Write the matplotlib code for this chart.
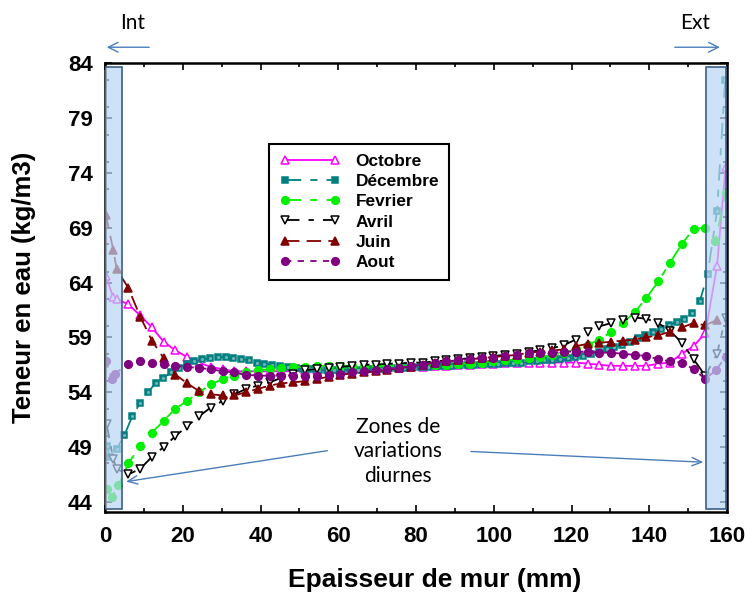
import numpy as np
import matplotlib
matplotlib.use("Agg")
import matplotlib.pyplot as plt
from matplotlib.patches import Rectangle, FancyArrowPatch
from matplotlib.ticker import MultipleLocator

# --- data -------------------------------------------------------------
# x grid (mm) of the interior nodes, and the finer grid of the Décembre run
x_mid = np.linspace(6.0, 154.4, 50)
x_dec = np.arange(5, 156, 2)

# zone points: (x, y) inside the interior (Int) and exterior (Ext) bands
octobre_in = ([0.3, 2.0, 3.0], [64.6, 62.7, 62.5])
octobre_out = ([157.4, 159.6], [65.5, 74.5])
octobre_mid = [62.0, 61.0, 59.9, 58.6, 57.8, 57.2, 56.7, 56.3, 56.1, 55.9,
               55.9, 55.9, 55.9, 55.9, 55.9, 56.0, 56.0, 56.0, 56.0, 56.1,
               56.1, 56.1, 56.2, 56.2, 56.3, 56.3, 56.4, 56.4, 56.5, 56.5,
               56.6, 56.6, 56.7, 56.7, 56.7, 56.7, 56.7, 56.7, 56.7, 56.6,
               56.5, 56.4, 56.4, 56.4, 56.4, 56.6, 56.7, 57.5, 58.2, 59.4]

decembre_in = ([0.4, 1.3, 3.0], [49.1, 48.1, 48.8])
decembre_out = ([157.4, 159.5], [70.5, 82.5])
decembre_mid = [50.1, 51.8, 53.0, 54.0, 54.8, 55.3, 55.8, 56.2, 56.6, 56.8,
                57.0, 57.1, 57.2, 57.2, 57.1, 57.0, 56.9, 56.7, 56.6, 56.5,
                56.4, 56.3, 56.2, 56.1, 56.1, 56.0, 56.0, 56.0, 56.0, 56.0,
                56.0, 56.1, 56.1, 56.1, 56.2, 56.2, 56.2, 56.3, 56.3, 56.3,
                56.4, 56.4, 56.4, 56.5, 56.5, 56.5, 56.6, 56.6, 56.6, 56.7,
                56.7, 56.7, 56.8, 56.8, 56.9, 56.9, 57.0, 57.1, 57.2, 57.3,
                57.5, 57.7, 57.9, 58.1, 58.3, 58.6, 58.9, 59.2, 59.5, 59.8,
                60.1, 60.4, 60.7, 61.2, 62.3, 64.8]

fevrier_in = ([0.4, 1.7, 3.4], [45.2, 44.4, 45.5])
fevrier_out = ([157.0, 159.6], [67.8, 72.2])
fevrier_mid = [47.5, 49.1, 50.3, 51.4, 52.5, 53.2, 54.0, 54.7, 55.2, 55.5,
               55.8, 56.0, 56.1, 56.2, 56.3, 56.3, 56.4, 56.4, 56.4, 56.4,
               56.4, 56.4, 56.4, 56.4, 56.4, 56.5, 56.5, 56.5, 56.6, 56.6,
               56.7, 56.8, 56.9, 57.0, 57.1, 57.2, 57.4, 57.6, 57.9, 58.3,
               58.8, 59.5, 60.3, 61.3, 62.6, 64.1, 65.8, 67.5, 68.9, 69.0]

avril_in = ([0.4, 2.1, 3.0], [51.1, 47.9, 47.0])
avril_out = ([157.4, 159.6], [57.5, 60.8])
avril_mid = [46.5, 47.0, 48.1, 49.0, 50.0, 50.9, 51.8, 52.6, 53.2, 53.8,
             54.3, 54.6, 54.9, 55.3, 55.7, 56.0, 56.1, 56.2, 56.3, 56.4,
             56.5, 56.5, 56.6, 56.6, 56.7, 56.7, 56.8, 56.9, 57.0, 57.1,
             57.2, 57.3, 57.4, 57.5, 57.7, 57.8, 58.0, 58.3, 58.8, 59.5,
             60.0, 60.3, 60.6, 60.8, 60.7, 60.3, 59.6, 58.5, 57.0, 55.5]

juin_in = ([0.2, 2.1, 3.0], [70.2, 67.0, 65.2])
juin_out = ([157.4], [60.6])
juin_mid = [63.5, 60.9, 58.7, 57.1, 55.6, 54.8, 54.1, 53.8, 53.7, 53.7,
            54.0, 54.3, 54.6, 54.8, 54.9, 55.0, 55.2, 55.4, 55.6, 55.7,
            55.8, 55.9, 56.0, 56.2, 56.3, 56.5, 56.7, 56.8, 56.9, 57.0,
            57.1, 57.2, 57.3, 57.4, 57.6, 57.7, 57.8, 57.9, 58.2, 58.4,
            58.5, 58.6, 58.7, 58.8, 59.0, 59.2, 59.5, 59.9, 60.3, 60.1]

aout_in = ([0.3, 1.7, 2.6], [56.8, 55.2, 55.7])
aout_out = ([157.1, 159.6], [56.0, 57.2])
aout_mid = [56.6, 56.8, 56.7, 56.6, 56.4, 56.3, 56.2, 56.1, 55.9, 55.8,
            55.6, 55.5, 55.5, 55.5, 55.5, 55.5, 55.5, 55.6, 55.7, 55.8,
            55.9, 56.0, 56.1, 56.2, 56.4, 56.5, 56.7, 56.8, 56.9, 57.0,
            57.1, 57.1, 57.3, 57.4, 57.6, 57.6, 57.6, 57.7, 57.7, 57.7,
            57.6, 57.6, 57.5, 57.4, 57.3, 57.0, 56.8, 56.7, 56.1, 55.2]

months = ["Octobre", "Décembre", "Fevrier", "Avril", "Juin", "Aout"]


def full_series(zone_in, xs, ys, zone_out):
    x = np.concatenate([zone_in[0], xs, zone_out[0]])
    y = np.concatenate([zone_in[1], ys, zone_out[1]])
    return x, y


series = [
    full_series(octobre_in, x_mid, octobre_mid, octobre_out),
    full_series(decembre_in, x_dec, decembre_mid, decembre_out),
    full_series(fevrier_in, x_mid, fevrier_mid, fevrier_out),
    full_series(avril_in, x_mid, avril_mid, avril_out),
    full_series(juin_in, x_mid, juin_mid, juin_out),
    full_series(aout_in, x_mid, aout_mid, aout_out),
]

# --- styles -----------------------------------------------------------
styles = [
    dict(color="#ff00ff", marker="^", ms=6, mfc="white", mec="#ff00ff", ls="-"),
    dict(color="#008080", marker="s", ms=5, mfc="#008080", mec="#008080", dashes=(9, 5, 4, 5)),
    dict(color="#00f000", marker="o", ms=5.5, mfc="#00f000", mec="#00f000", dashes=(9, 5, 4, 5)),
    dict(color="black", marker="v", ms=6, mfc="white", mec="black", dashes=(8, 5, 3, 5)),
    dict(color="#800000", marker="^", ms=6, mfc="#800000", mec="#800000", dashes=(8, 4)),
    dict(color="#800080", marker="o", ms=5.5, mfc="#800080", mec="#800080", dashes=(3.5, 3.5)),
]
blue = "#4a7ebb"

fig = plt.figure(figsize=(7.45, 5.98), dpi=100)
ax = fig.add_axes([0.141, 0.1444, 0.835, 0.7498])

for (x, y), name, st in zip(series, months, styles):
    ax.plot(x, y, lw=1.3, mew=1.1, label=name, **st)
    if name == "Décembre":
        # light dot in the centre of each square
        ax.plot(x, y, ls="none", marker="o", ms=1.3, color="#6fb3b3")

# shaded zones of daily variation, drawn over the curves
for x0, w in [(0.0, 4.3), (154.6, 5.1)]:
    ax.add_patch(Rectangle((x0, 43.3), w, 40.4, facecolor=(0.73, 0.84, 0.96, 0.7),
                           edgecolor="#3b5f8a", lw=1.2, zorder=5))

ax.set_xlim(0, 160)
ax.set_ylim(43.1, 84)
ax.set_xticks(np.arange(0, 161, 20))
ax.set_yticks(np.arange(44, 85, 5))
ax.xaxis.set_minor_locator(MultipleLocator(10))
ax.yaxis.set_minor_locator(MultipleLocator(2.5))
ax.tick_params(which="both", direction="in", top=True, right=True, width=1.2)
ax.tick_params(which="major", length=5)
ax.tick_params(which="minor", length=3)
ax.tick_params(axis="x", pad=10)
ax.tick_params(axis="y", pad=9)
for lab in ax.get_xticklabels() + ax.get_yticklabels():
    lab.set_fontfamily("Liberation Sans")
    lab.set_fontweight("bold")
    lab.set_fontsize(16)
for sp in ax.spines.values():
    sp.set_linewidth(1.8)

ax.set_xlabel("Epaisseur de mur (mm)", fontsize=19, fontweight="bold",
              family="Liberation Sans")
ax.xaxis.set_label_coords(0.53, -0.125)
ax.set_ylabel("Teneur en eau (kg/m3)", fontsize=18.5, fontweight="bold",
              family="Liberation Sans")
ax.yaxis.set_label_coords(-0.111, 0.5)

leg = ax.legend(loc="upper left", bbox_to_anchor=(0.264, 0.82), numpoints=2,
                borderaxespad=0, handlelength=3.5, handletextpad=0.9,
                labelspacing=0.29, borderpad=0.6,
                fancybox=False, edgecolor="black", framealpha=1,
                prop=dict(family="Liberation Sans", weight="bold", size=12.4))
leg.get_frame().set_linewidth(1.5)

# annotations
ax.text(75.4, 48.6, "Zones de\nvariations\ndiurnes", ha="center", va="center",
        fontsize=15, family="Lato", linespacing=1.3, zorder=6)
arrow = dict(arrowstyle="->,head_length=0.7,head_width=0.3", color=blue, lw=1)
ax.annotate("", xy=(4.7, 45.8), xytext=(57.9, 48.7), arrowprops=arrow, zorder=6)
ax.annotate("", xy=(154.6, 47.6), xytext=(93.4, 48.6), arrowprops=arrow, zorder=6)

fig.text(0.1785, 0.962, "Int", ha="center", va="center", fontsize=15, family="Lato")
fig.text(0.933, 0.962, "Ext", ha="center", va="center", fontsize=15, family="Lato")
fig.add_artist(FancyArrowPatch(
    (0.204, 0.921), (0.1396, 0.921), transform=fig.transFigure,
    arrowstyle="->,head_length=7,head_width=3.5", color=blue, lw=1))
fig.add_artist(FancyArrowPatch(
    (0.902, 0.921), (0.970, 0.921), transform=fig.transFigure,
    arrowstyle="->,head_length=7,head_width=3.5", color=blue, lw=1))

fig.savefig("out.png", dpi=100)
